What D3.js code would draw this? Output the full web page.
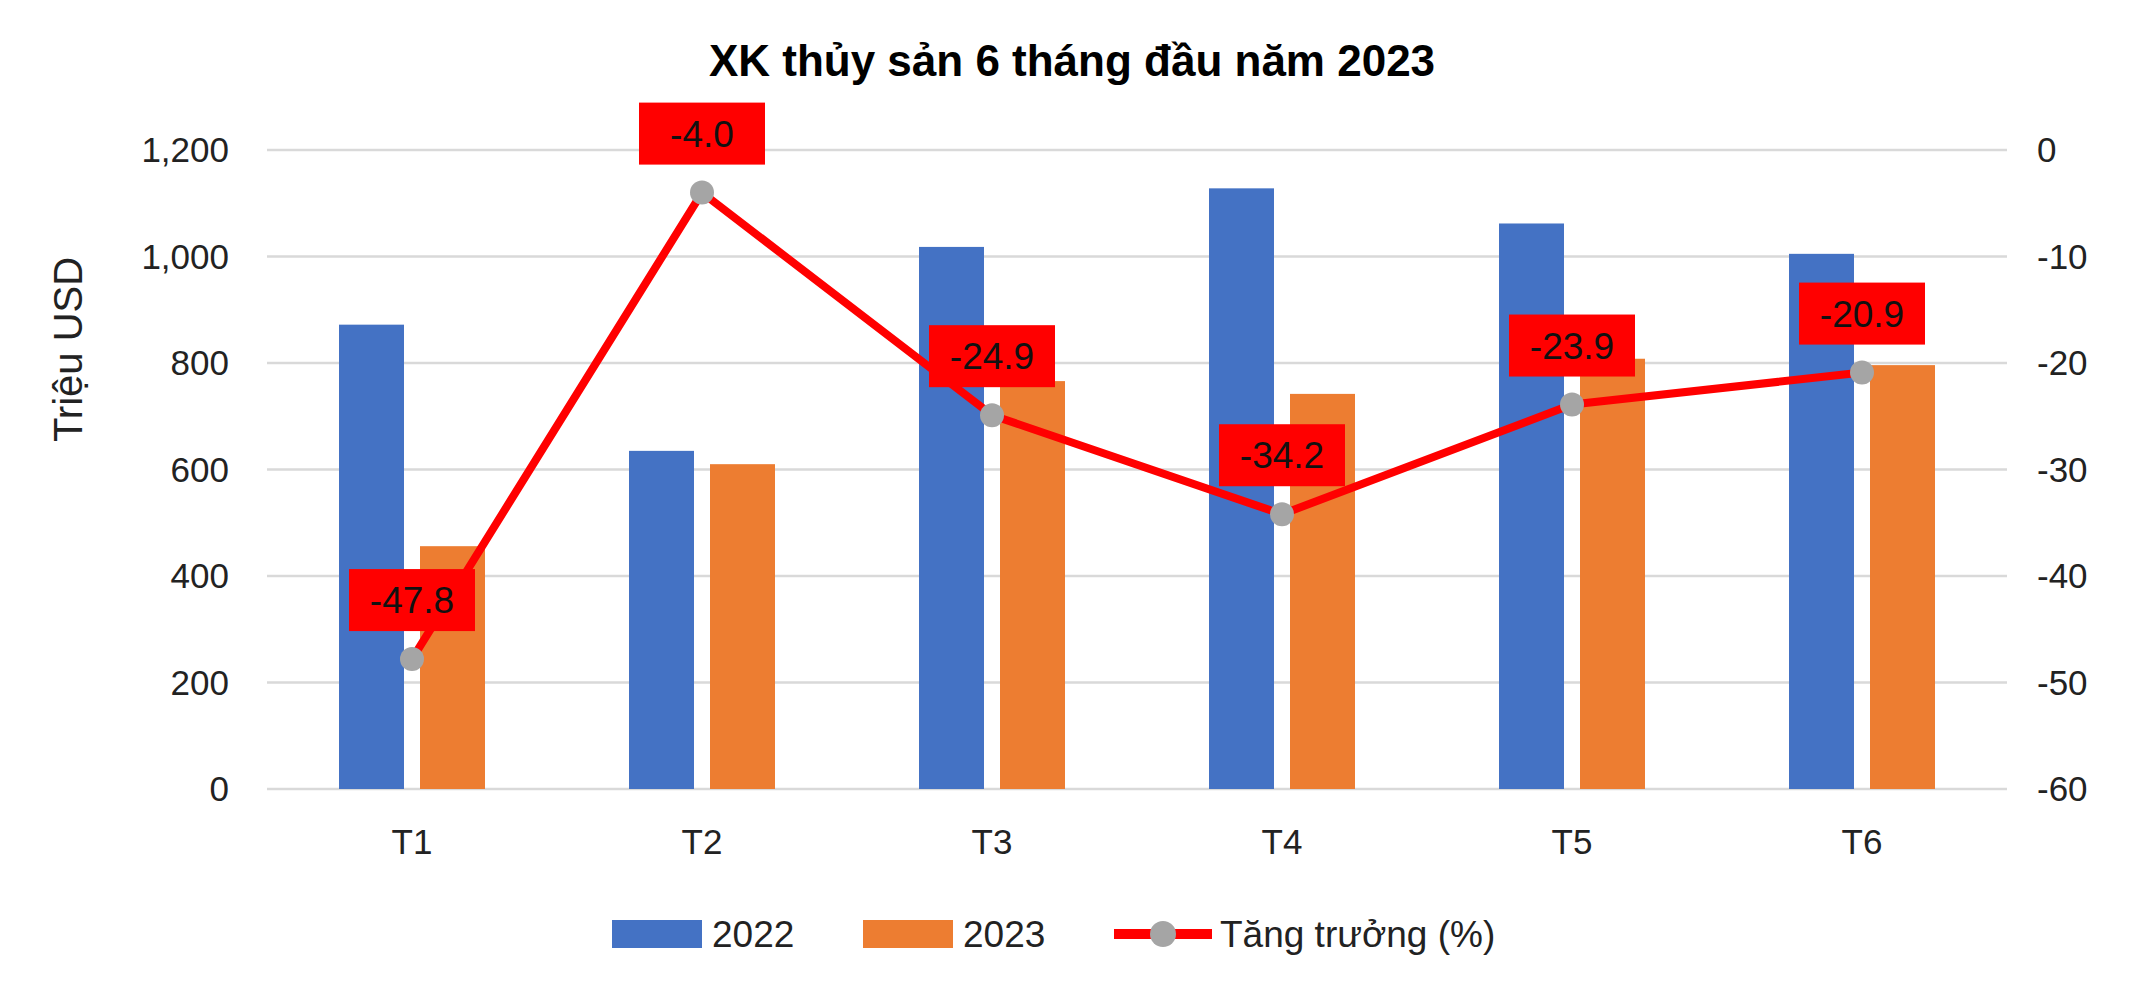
<!DOCTYPE html>
<html><head><meta charset="utf-8">
<script src="https://cdn.jsdelivr.net/npm/d3@7"></script>
<style>body{margin:0;background:#fff}text{font-family:Arial,"Liberation Sans",sans-serif}</style>
</head><body><svg id="c" width="2144" height="1000"></svg>
<script>
const months = ['T1','T2','T3','T4','T5','T6'];
const v2022 = [872, 635, 1018, 1128, 1062, 1005];
const v2023 = [456, 610, 766, 742, 808, 796];
const growth = [-47.8, -4.0, -24.9, -34.2, -23.9, -20.9];
const leftTicks = [0,200,400,600,800,1000,1200];
const rightTicks = [0,-10,-20,-30,-40,-50,-60];

const svg = d3.select('#c');
const L = 267, R = 2007, T = 150, B = 789;
const x = d3.scaleBand().domain(months).range([L, R]);
const y = d3.scaleLinear().domain([0,1200]).range([B, T]);
const y2 = d3.scaleLinear().domain([-60,0]).range([B, T]);
const bw = 65, gap = 16;

svg.append('text').attr('x',1072).attr('y',76).attr('text-anchor','middle')
  .attr('font-size',44).attr('font-weight','bold').text('XK thủy sản 6 tháng đầu năm 2023');

leftTicks.forEach(t => {
  svg.append('line').attr('x1',L).attr('x2',R).attr('y1',y(t)).attr('y2',y(t))
    .attr('stroke','#d9d9d9').attr('stroke-width',2.5);
  svg.append('text').attr('x',L-38).attr('y',y(t)+12).attr('text-anchor','end')
    .attr('font-size',35).attr('fill','#222').text(d3.format(',')(t));
});
rightTicks.forEach(t => {
  svg.append('text').attr('x',R+30).attr('y',y2(t)+12).attr('font-size',35)
    .attr('fill','#222').text(t);
});
svg.append('text').attr('transform',`translate(82,${(T+B)/2 - 120}) rotate(-90)`)
  .attr('text-anchor','middle').attr('font-size',40).attr('fill','#222').text('Triệu USD');

months.forEach((m,i) => {
  const c = x(m) + x.bandwidth()/2;
  svg.append('rect').attr('x',c-gap/2-bw).attr('width',bw).attr('y',y(v2022[i])).attr('height',B-y(v2022[i])).attr('fill','#4472c4');
  svg.append('rect').attr('x',c+gap/2).attr('width',bw).attr('y',y(v2023[i])).attr('height',B-y(v2023[i])).attr('fill','#ed7d31');
  svg.append('text').attr('x',c).attr('y',B+65).attr('text-anchor','middle').attr('font-size',35).attr('fill','#222').text(m);
});

const cx = m => x(m) + x.bandwidth()/2;
svg.append('path').datum(growth)
  .attr('d', d3.line().x((d,i)=>cx(months[i])).y(d=>y2(d)))
  .attr('fill','none').attr('stroke','#ff0000').attr('stroke-width',8).attr('stroke-linejoin','round');
growth.forEach((g,i) => {
  svg.append('circle').attr('cx',cx(months[i])).attr('cy',y2(g)).attr('r',12).attr('fill','#a5a5a5');
});
growth.forEach((g,i) => {
  const px = cx(months[i]), py = y2(g) - 59;
  svg.append('rect').attr('x',px-63).attr('y',py-31).attr('width',126).attr('height',62).attr('fill','#ff0000');
  svg.append('text').attr('x',px).attr('y',py+13).attr('text-anchor','middle').attr('font-size',37).attr('fill','#111').text(g.toFixed(1));
});

// legend
const ly = 934;
svg.append('rect').attr('x',612).attr('y',ly-14).attr('width',90).attr('height',28).attr('fill','#4472c4');
svg.append('text').attr('x',712).attr('y',ly+13).attr('font-size',37).attr('fill','#222').text('2022');
svg.append('rect').attr('x',863).attr('y',ly-14).attr('width',90).attr('height',28).attr('fill','#ed7d31');
svg.append('text').attr('x',963).attr('y',ly+13).attr('font-size',37).attr('fill','#222').text('2023');
svg.append('line').attr('x1',1114).attr('x2',1212).attr('y1',ly).attr('y2',ly).attr('stroke','#ff0000').attr('stroke-width',10);
svg.append('circle').attr('cx',1163).attr('cy',ly).attr('r',13).attr('fill','#a5a5a5');
svg.append('text').attr('x',1220).attr('y',ly+13).attr('font-size',37).attr('fill','#222').text('Tăng trưởng (%)');
</script></body></html>
